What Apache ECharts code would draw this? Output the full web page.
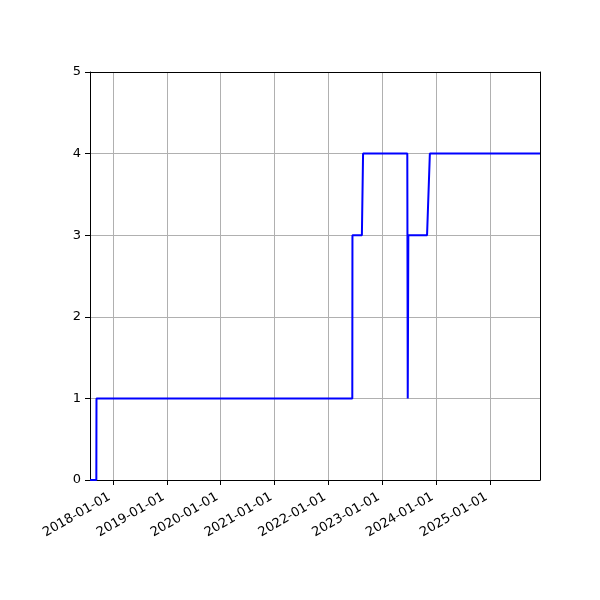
<!DOCTYPE html>
<html>
<head>
<meta charset="utf-8">
<script src="https://cdn.jsdelivr.net/npm/echarts@6/dist/echarts.min.js"></script>
<style>html,body{margin:0;padding:0;background:#fff;}#c{width:600px;height:600px;}</style>
</head>
<body>
<div id="c"></div>
<script>
const dates = ['2017-07-29','2017-09-10','2017-09-11','2022-06-12','2022-06-13','2022-08-16','2022-08-24','2023-06-20','2023-06-23','2023-06-27','2023-11-01','2023-11-20','2025-12-06'];
const values = [0,0,1,1,3,3,4,4,1,3,3,4,4];
const xMin = '2017-07-29';
const xMax = '2025-12-06';
const yMin = 0, yMax = 5, yStep = 1;

const chart = echarts.init(document.getElementById('c'), null, {renderer: 'canvas'});
const YEAR = 365 * 24 * 3600 * 1000;
const frameAxis = {show: true, axisLine: {show: true, onZero: false, lineStyle: {color: '#000', width: 1}}, axisTick: {show: false}, axisLabel: {show: false}, splitLine: {show: false}};
chart.setOption({
  animation: false,
  backgroundColor: '#fff',
  grid: {left: 90, right: 60, top: 72, bottom: 120, show: false},
  xAxis: [{
    type: 'time',
    min: xMin, max: xMax,
    minInterval: YEAR, maxInterval: YEAR,
    axisLine: {show: true, onZero: false, lineStyle: {color: '#000', width: 1}},
    axisTick: {show: true, inside: false, length: 5, lineStyle: {color: '#000'}},
    axisLabel: {
      show: true, rotate: 30, margin: 14, padding: [0, 4, 0, 0], color: '#000',
      fontFamily: 'DejaVu Sans', fontSize: 13,
      showMinLabel: false, showMaxLabel: false,
      formatter: function (v) { return echarts.time.format(v, '{yyyy}-{MM}-{dd}', false); }
    },
    splitLine: {show: true, lineStyle: {color: '#b0b0b0', width: 1}}
  }, Object.assign({type: 'value', position: 'top', min: 0, max: 1}, frameAxis)],
  yAxis: [{
    type: 'value', min: yMin, max: yMax, interval: yStep,
    axisLine: {show: true, onZero: false, lineStyle: {color: '#000', width: 1}},
    axisTick: {show: true, inside: false, length: 5, lineStyle: {color: '#000'}},
    axisLabel: {color: '#000', fontFamily: 'DejaVu Sans', fontSize: 13, margin: 9},
    splitLine: {show: true, lineStyle: {color: '#b0b0b0', width: 1}}
  }, Object.assign({type: 'value', position: 'right', min: 0, max: 1}, frameAxis)],
  series: [{
    type: 'line',
    xAxisIndex: 0, yAxisIndex: 0,
    data: dates.map((d, i) => [d, values[i]]),
    showSymbol: false,
    lineStyle: {color: '#0000ff', width: 2},
    itemStyle: {color: '#0000ff'}
  }]
});
</script>
</body>
</html>
